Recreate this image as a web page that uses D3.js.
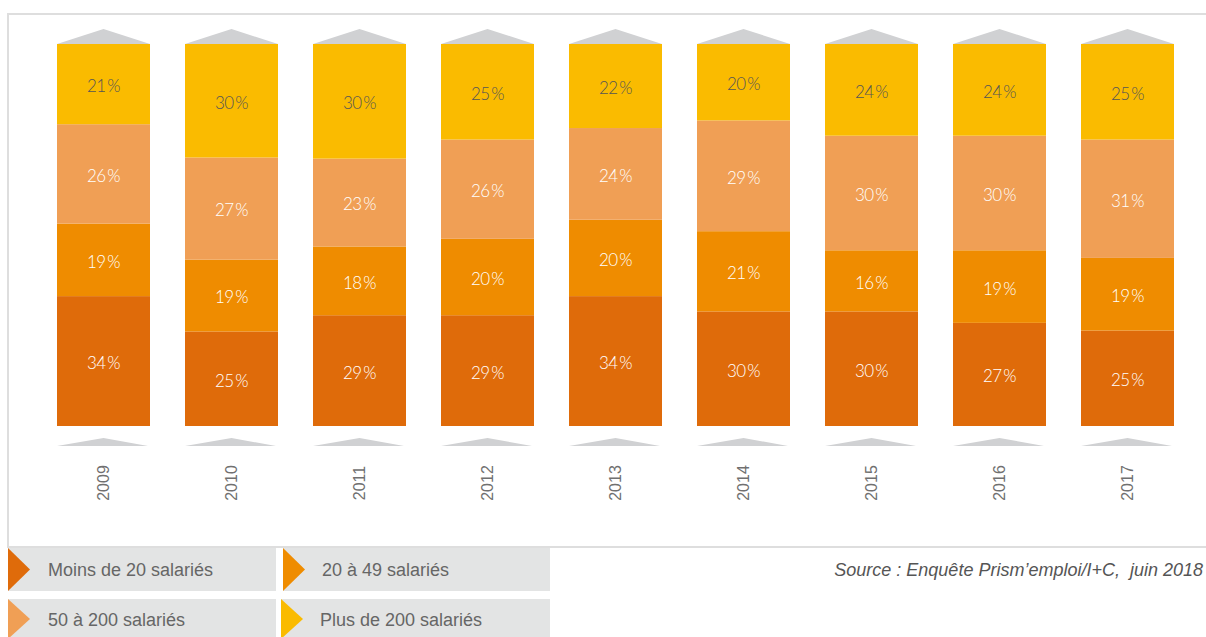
<!DOCTYPE html>
<html>
<head>
<meta charset="utf-8">
<script src="https://cdn.jsdelivr.net/npm/d3@7"></script>
<style>
  body { margin: 0; background: #fff; }
</style>
</head>
<body>
<div id="vis"></div>
<script>
// data (bottom to top of each bar)
const years = ["2009", "2010", "2011", "2012", "2013", "2014", "2015", "2016", "2017"];
const moins20 = [34, 25, 29, 29, 34, 30, 30, 27, 25];
const de20a49 = [19, 19, 18, 20, 20, 21, 16, 19, 19];
const de50a200 = [26, 27, 23, 26, 24, 29, 30, 30, 31];
const plus200 = [21, 30, 30, 25, 22, 20, 24, 24, 25];
const seriesNames = ["Moins de 20 salariés", "20 à 49 salariés", "50 à 200 salariés", "Plus de 200 salariés"];
const colors = ["#DF6B0A", "#EF8C00", "#F09F55", "#FABB00"];
const labelColors = ["#FFFFFF", "#FFFFFF", "#FFFFFF", "#555555"];

const width = 1206, height = 637;
const keys = ["a", "b", "c", "d"];
const rows = years.map((y, i) => ({ year: y, a: moins20[i], b: de20a49[i], c: de50a200[i], d: plus200[i] }));

const svg = d3.select("#vis").append("svg")
  .attr("width", width)
  .attr("height", height);

// frame
svg.append("path")
  .attr("d", "M1207,14 H8 V547 H1207")
  .attr("fill", "none")
  .attr("stroke", "#DEDEDE")
  .attr("stroke-width", 2);

// scales
const x = d3.scaleBand().domain(years).range([57, 1174]).paddingInner(35 / 128).paddingOuter(0);
const y = d3.scaleLinear().domain([0, 1]).range([426, 44]);

const stack = d3.stack().keys(keys).offset(d3.stackOffsetExpand);
const series = stack(rows);

// roof and base shapes
svg.append("g").selectAll("path")
  .data(years)
  .join("path")
  .attr("d", d => {
    const x0 = x(d), x1 = x(d) + x.bandwidth();
    return `M${x0},44 L${(x0 + x1) / 2},29 L${x1},44 Z`;
  })
  .attr("fill", "#D0D1D3");

svg.append("g").selectAll("path")
  .data(years)
  .join("path")
  .attr("d", d => {
    const x0 = x(d), x1 = x(d) + x.bandwidth();
    return `M${x0},446 L${(x0 + x1) / 2},438 L${x1 - 2},446 Z`;
  })
  .attr("fill", "#D0D1D3");

// bars
const layer = svg.append("g").selectAll("g")
  .data(series)
  .join("g")
  .attr("fill", (d, i) => colors[i]);

layer.selectAll("rect")
  .data(d => d)
  .join("rect")
  .attr("x", d => x(d.data.year))
  .attr("y", d => y(d[1]))
  .attr("width", x.bandwidth())
  .attr("height", d => y(d[0]) - y(d[1]));

// value labels
const labels = svg.append("g");
series.forEach((s, si) => {
  labels.selectAll(null)
    .data(s)
    .join("text")
    .attr("x", d => x(d.data.year) + x.bandwidth() / 2)
    .attr("y", d => (y(d[0]) + y(d[1])) / 2 + 2)
    .attr("dy", "0.35em")
    .attr("text-anchor", "middle")
    .attr("font-family", "Lato, 'Open Sans', sans-serif")
    .attr("font-weight", 300)
    .attr("font-size", 17)
    .attr("letter-spacing", -0.5)
    .attr("fill", labelColors[si])
    .text(d => d.data[s.key] + "\u2009%");
});

// year labels
svg.append("g").selectAll("text")
  .data(years)
  .join("text")
  .attr("transform", d => `translate(${x(d) + x.bandwidth() / 2 + 5},483) rotate(-90)`)
  .attr("text-anchor", "middle")
  .attr("font-family", "'Liberation Sans', Arial, sans-serif")
  .attr("font-size", 16)
  .attr("fill", "#707070")
  .text(d => d);

// legend
const legendPos = [
  { x: 8, y: 548, w: 268, h: 43 },
  { x: 283, y: 548, w: 267, h: 43 },
  { x: 8, y: 599, w: 268, h: 40 },
  { x: 281, y: 599, w: 269, h: 40 }
];
const lg = svg.append("g").selectAll("g")
  .data(seriesNames)
  .join("g")
  .attr("transform", (d, i) => `translate(${legendPos[i].x},${legendPos[i].y})`);

lg.append("rect")
  .attr("width", (d, i) => legendPos[i].w)
  .attr("height", (d, i) => legendPos[i].h)
  .attr("fill", "#E3E4E4");

lg.append("path")
  .attr("d", (d, i) => `M0,0 L22,${legendPos[i].h / 2} L0,${legendPos[i].h} Z`)
  .attr("fill", (d, i) => colors[i]);

lg.append("text")
  .attr("x", (d, i) => i % 2 === 0 ? 40 : 39)
  .attr("y", (d, i) => i < 2 ? 22 : 21)
  .attr("dy", "0.35em")
  .attr("font-family", "'Liberation Sans', Arial, sans-serif")
  .attr("font-size", 18)
  .attr("fill", "#666")
  .text(d => d);

// source
svg.append("text")
  .attr("x", 1203)
  .attr("y", 570)
  .attr("dy", "0.35em")
  .attr("text-anchor", "end")
  .attr("font-family", "'Liberation Sans', Arial, sans-serif")
  .attr("font-style", "italic")
  .attr("font-size", 18)
  .attr("fill", "#555")
  .text("Source : Enquête Prism’emploi/I+C,\u00A0 juin 2018");
</script>
</body>
</html>
